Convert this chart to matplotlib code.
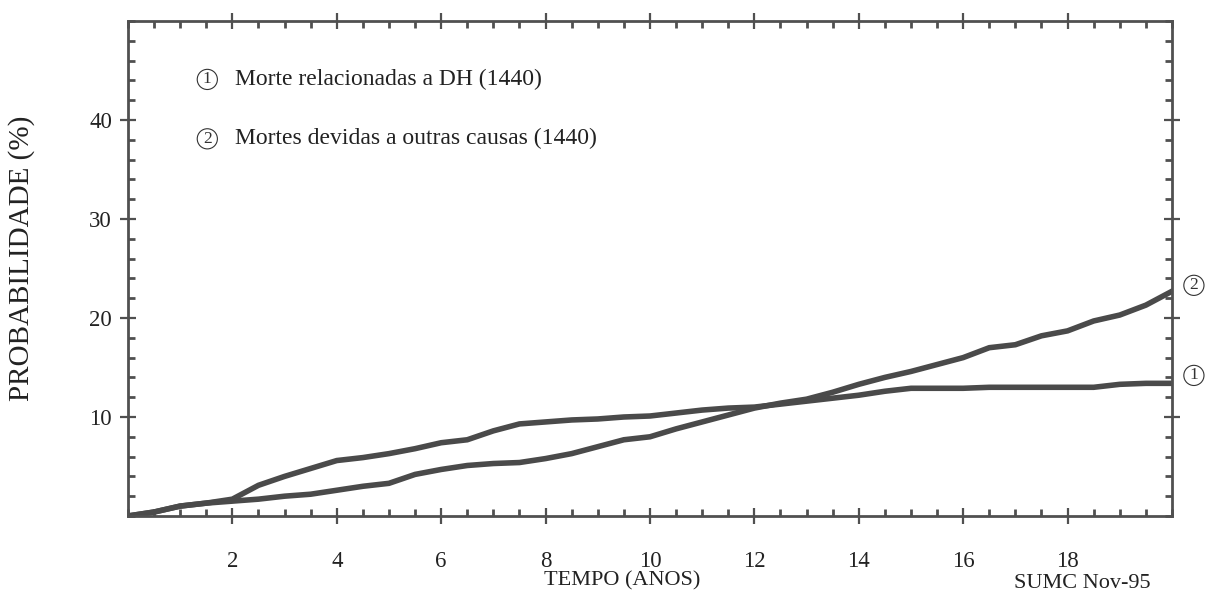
import matplotlib
matplotlib.use('Agg')
from matplotlib import pyplot as plt
from matplotlib.ticker import MultipleLocator

# tempo em anos
anos = [0, 0.5, 1, 1.5, 2, 2.5, 3, 3.5, 4, 4.5, 5, 5.5, 6, 6.5, 7, 7.5, 8, 8.5, 9, 9.5,
        10, 10.5, 11, 11.5, 12, 12.5, 13, 13.5, 14, 14.5, 15, 15.5, 16, 16.5, 17, 17.5,
        18, 18.5, 19, 19.5, 20]

# (1) Morte relacionadas a DH
prob_dh = [0, 0.4, 1.0, 1.3, 1.7, 3.1, 4.0, 4.8, 5.6, 5.9, 6.3, 6.8, 7.4, 7.7, 8.6, 9.3,
           9.5, 9.7, 9.8, 10.0, 10.1, 10.4, 10.7, 10.9, 11.0, 11.3, 11.6, 11.9, 12.2, 12.6,
           12.9, 12.9, 12.9, 13.0, 13.0, 13.0, 13.0, 13.0, 13.3, 13.4, 13.4]

# (2) Mortes devidas a outras causas
prob_outras = [0, 0.4, 1.0, 1.3, 1.5, 1.7, 2.0, 2.2, 2.6, 3.0, 3.3, 4.2, 4.7, 5.1, 5.3, 5.4,
               5.8, 6.3, 7.0, 7.7, 8.0, 8.8, 9.5, 10.2, 10.9, 11.4, 11.8, 12.5, 13.3, 14.0,
               14.6, 15.3, 16.0, 17.0, 17.3, 18.2, 18.7, 19.7, 20.3, 21.3, 22.7]

legendas = ['Morte relacionadas a DH (1440)', 'Mortes devidas a outras causas (1440)']

plt.rcParams['font.family'] = ['Liberation Serif', 'DejaVu Serif']
cinza = '#4a4a4a'

fig = plt.figure(figsize=(12.05, 5.92), dpi=100)
ax = fig.add_axes([0.1062, 0.1284, 0.8664, 0.8361])

ax.plot(anos, prob_dh, color=cinza, lw=4, solid_joinstyle='miter')
ax.plot(anos, prob_outras, color=cinza, lw=4, solid_joinstyle='miter')

ax.set_xlim(0, 20)
ax.set_ylim(0, 50)
ax.set_xticks(range(2, 20, 2))
ax.set_yticks([10, 20, 30, 40])
ax.xaxis.set_minor_locator(MultipleLocator(0.5))
ax.yaxis.set_minor_locator(MultipleLocator(2))

for s in ax.spines.values():
    s.set_color('#505050')
    s.set_linewidth(2)

ax.tick_params(which='major', direction='inout', length=11, width=1.6, color='#505050',
               top=True, right=True, labelsize=16.5, labelcolor='#222222')
ax.tick_params(axis='x', which='major', pad=20)
ax.tick_params(axis='y', which='major', pad=6)
ax.tick_params(which='minor', direction='in', length=5, width=2, color='#505050',
               top=True, right=True)

# legenda com números circulados
circ = dict(boxstyle='circle,pad=0.12', fc='none', ec='#333333', lw=0.8)
for i, (yy, txt) in enumerate(zip([44.1, 38.1], legendas)):
    ax.text(1.52, yy, str(i + 1), fontsize=12.5, ha='center', va='center', bbox=circ,
            color='#333333')
    ax.text(2.05, yy, txt, fontsize=17, ha='left', va='center', color='#222222')

ax.text(20.42, 23.3, '2', fontsize=12.5, ha='center', va='center', bbox=circ,
        color='#333333', clip_on=False)
ax.text(20.42, 14.2, '1', fontsize=12.5, ha='center', va='center', bbox=circ,
        color='#333333', clip_on=False)

fig.text(22 / 1205, 1 - 258 / 592, 'PROBABILIDADE (%)', rotation=90, fontsize=21,
         ha='center', va='center', color='#222222')
fig.text(622 / 1205, 1 - 581 / 592, 'TEMPO (ANOS)', fontsize=16,
         ha='center', va='center', color='#222222')
fig.text(1082 / 1205, 1 - 584 / 592, 'SUMC Nov-95', fontsize=16,
         ha='center', va='center', color='#222222')

fig.savefig('out.png', dpi=100)
